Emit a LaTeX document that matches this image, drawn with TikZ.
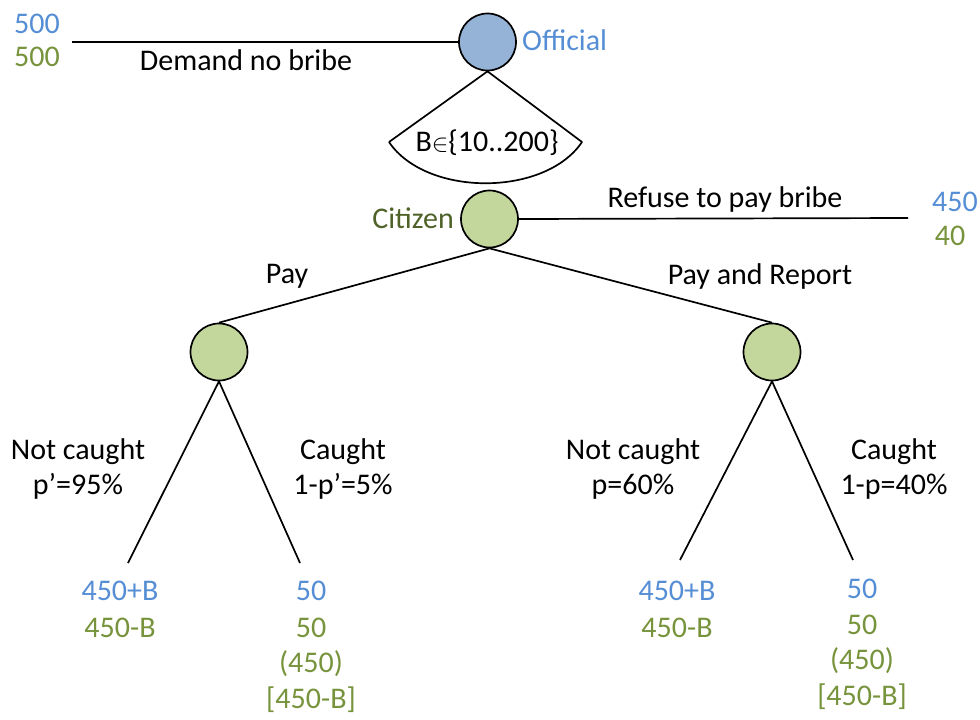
\documentclass[tikz,border=0pt]{standalone}
\usepackage{fontspec}
\setmainfont{Carlito}
\begin{document}
\begin{tikzpicture}[x=1pt,y=-1pt,
  edge/.style={line width=1.7pt, draw=black},
  chance/.style={circle, draw=black, line width=1.7pt, minimum size=57pt, inner sep=0pt, fill=nodegreen},
  lbl/.style={font=\fontsize{30}{35}\selectfont, inner sep=0pt, align=center, text=black},
  pblue/.style={font=\fontsize{30}{35}\selectfont, inner sep=0pt, text=payblue},
  pgreen/.style={font=\fontsize{30}{35}\selectfont, inner sep=0pt, text=paygreen}]
\definecolor{nodegreen}{HTML}{C3D69B}
\definecolor{nodeblue}{HTML}{95B3D7}
\definecolor{payblue}{HTML}{558ED5}
\definecolor{paygreen}{HTML}{77933C}
\definecolor{citgreen}{HTML}{4F6228}
\useasboundingbox (0,0) rectangle (980,720);
% nodes
\node[chance, fill=nodeblue] (off) at (487.5,42) {};
\node[chance] (cit) at (489.5,219) {};
\node[chance] (pay) at (219,352) {};
\node[chance] (par) at (772,352) {};
\node[lbl, anchor=west, text=payblue] (offl) at (522,40) {Official};
\node[lbl, anchor=east, text=citgreen] (citl) at (454,218) {Citizen};
% coordinates
\coordinate (dnb) at (72,42);
\coordinate (rfe) at (908,218);
\coordinate (secL) at (389,142);
\coordinate (secR) at (582,142);
\coordinate (l1) at (128,563);
\coordinate (l2) at (300,563);
\coordinate (l3) at (680,560);
\coordinate (l4) at (853,560);
% edges
\draw[edge] (off.west) -- (dnb);
\draw[edge, line join=round] (secL) -- (off.south) -- (secR) .. controls (545,197) and (426,197) .. (secL);
\draw[edge] (cit.east) -- (rfe);
\draw[edge] (cit.south) -- (pay.north);
\draw[edge] (cit.south) -- (par.north);
\draw[edge] (pay.south) -- (l1);
\draw[edge] (pay.south) -- (l2);
\draw[edge] (par.south) -- (l3);
\draw[edge] (par.south) -- (l4);
% labels
\node[lbl] (bset) at (487,143) {B$\in$\{10..200\}};
\node[lbl] (dnbl) at (246,60) {Demand no bribe};
\node[lbl] (rfel) at (725,199) {Refuse to pay bribe};
\node[lbl] (payl) at (287,276) {Pay};
\node[lbl] (parl) at (760,276) {Pay and Report};
\node[lbl] (nc1) at (78,469) {Not caught\\p’=95\%};
\node[lbl] (c1) at (343,469) {Caught\\1-p’=5\%};
\node[lbl] (nc2) at (633,469) {Not caught\\p=60\%};
\node[lbl] (c2) at (894,469) {Caught\\1-p=40\%};
% payoffs
\node[pblue] (p0a) at (37,24) {500};
\node[pgreen] (p0b) at (37,57) {500};
\node[pblue] (p5a) at (955,202) {450};
\node[pgreen] (p5b) at (950,236) {40};
\node[pblue] (p1a) at (120,591) {450+B};
\node[pgreen] (p1b) at (120,628) {450-B};
\node[pblue] (p2a) at (311,591) {50};
\node[pgreen] (p2b) at (311,628) {50};
\node[pgreen] (p2c) at (311,664) {(450)};
\node[pgreen] (p2d) at (311,700) {[450-B]};
\node[pblue] (p3a) at (677,591) {450+B};
\node[pgreen] (p3b) at (677,628) {450-B};
\node[pblue] (p4a) at (862,589) {50};
\node[pgreen] (p4b) at (862,625) {50};
\node[pgreen] (p4c) at (862,661) {(450)};
\node[pgreen] (p4d) at (862,697) {[450-B]};
\end{tikzpicture}
\end{document}
